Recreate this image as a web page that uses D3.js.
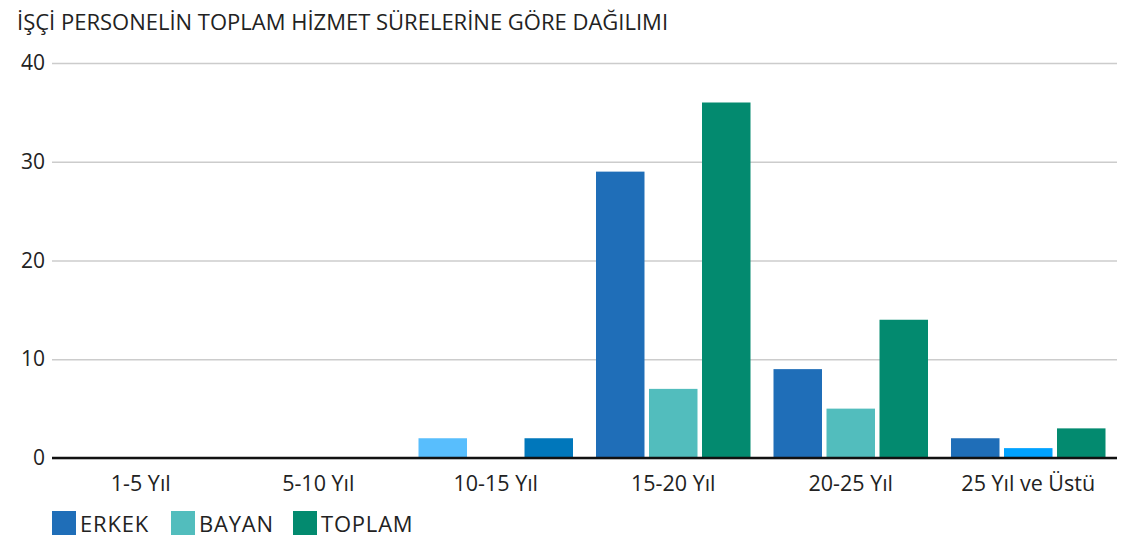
<!DOCTYPE html>
<html>
<head>
<meta charset="utf-8">
<script src="https://cdn.jsdelivr.net/npm/d3@7"></script>
<style>
  body { margin: 0; background: #fff; }
  svg { font-family: "Open Sans", sans-serif; }
</style>
</head>
<body>
<svg id="chart" width="1138" height="538"></svg>
<script>
// data
var categories = ["1-5 Yıl", "5-10 Yıl", "10-15 Yıl", "15-20 Yıl", "20-25 Yıl", "25 Yıl ve Üstü"];
var seriesNames = ["ERKEK", "BAYAN", "TOPLAM"];
var erkek = [0, 0, 2, 29, 9, 2];
var bayan = [0, 0, 0, 7, 5, 1];
var toplam = [0, 0, 2, 36, 14, 3];
var yTicks = [0, 10, 20, 30, 40];

var colours = { "ERKEK": "#1f6eb8", "BAYAN": "#52bdbd", "TOPLAM": "#038a6f" };
// a few bars in the original carry their own colour
var pointColours = { "10-15 Yıl|ERKEK": "#58befd", "10-15 Yıl|TOPLAM": "#0077bb", "25 Yıl ve Üstü|BAYAN": "#00a2ff" };

var drawChart = function () {
    var svg = d3.select('#chart');
    var mLeft = 52, mRight = 1117, mTop = 63, mBottom = 458;

    var x0 = d3.scaleBand().domain(categories).range([mLeft, mRight]);
    var x1 = d3.scaleBand().domain(seriesNames).range([0, x0.bandwidth()])
        .paddingInner(0.085).paddingOuter(0.217);
    var y = d3.scaleLinear().domain([0, 40]).range([mBottom, mTop]);

    // title
    svg.append('text').attr('x', 17).attr('y', 30)
        .attr('font-size', 22).attr('fill', '#222')
        .text('İŞÇİ PERSONELİN TOPLAM HİZMET SÜRELERİNE GÖRE DAĞILIMI');

    // grid + y labels
    var yAxis = svg.append('g').attr('transform', 'translate(' + mLeft + ',0)')
        .call(d3.axisLeft(y).tickValues(yTicks).tickSize(-(mRight - mLeft)).tickPadding(7));
    yAxis.select('.domain').remove();
    yAxis.selectAll('.tick line').attr('stroke', '#cccccc').attr('stroke-width', 1.3);
    yAxis.selectAll('.tick text').attr('font-size', 21).attr('fill', '#222')
        .attr('font-family', '"Open Sans", sans-serif');

    // bars
    var rows = categories.map(function (c, i) {
        return { cat: c, values: [erkek[i], bayan[i], toplam[i]] };
    });
    var groups = svg.selectAll('g.grp').data(rows).enter().append('g')
        .attr('class', 'grp')
        .attr('transform', function (d) { return 'translate(' + x0(d.cat) + ',0)'; });
    groups.selectAll('rect')
        .data(function (d) {
            return seriesNames.map(function (s, j) { return { cat: d.cat, key: s, v: d.values[j] }; });
        })
        .enter().append('rect')
        .attr('x', function (d) { return x1(d.key); })
        .attr('width', x1.bandwidth())
        .attr('y', function (d) { return y(d.v); })
        .attr('height', function (d) { return y(0) - y(d.v); })
        .attr('fill', function (d) { return pointColours[d.cat + '|' + d.key] || colours[d.key]; });

    // zero line
    svg.append('line').attr('x1', mLeft).attr('x2', mRight)
        .attr('y1', y(0)).attr('y2', y(0))
        .attr('stroke', '#111').attr('stroke-width', 2.5);

    // x labels
    var xAxis = svg.append('g').attr('transform', 'translate(0,' + mBottom + ')')
        .call(d3.axisBottom(x0).tickSize(0).tickPadding(18));
    xAxis.select('.domain').remove();
    xAxis.selectAll('.tick text').attr('font-size', 21.5).attr('fill', '#222')
        .attr('font-family', '"Open Sans", sans-serif');

    // legend
    var legendX = [52, 171, 293];
    var legend = svg.selectAll('g.leg').data(seriesNames).enter().append('g')
        .attr('class', 'leg')
        .attr('transform', function (d, i) { return 'translate(' + legendX[i] + ',511)'; });
    legend.append('rect').attr('width', 24).attr('height', 24)
        .attr('fill', function (d) { return colours[d]; });
    legend.append('text').attr('x', 28).attr('y', 21)
        .attr('font-size', 22).attr('letter-spacing', 0.8).attr('fill', '#222')
        .text(function (d) { return d; });
};

drawChart();
</script>
</body>
</html>
